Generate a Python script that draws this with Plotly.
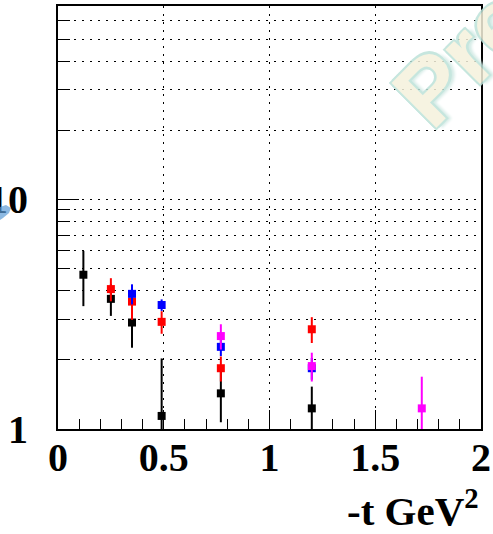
import plotly.graph_objects as go

# ---- data ----
black_x = [0.12, 0.25, 0.35, 0.49, 0.77, 1.20]
black_y = [4.70, 3.69, 2.91, 1.14, 1.43, 1.23]
black_e = [1.27, 0.58, 0.65, 0.89, 0.36, 0.30]

red_x = [0.25, 0.35, 0.49, 0.77, 1.20]
red_y = [4.07, 3.59, 2.93, 1.84, 2.72]
red_e = [0.47, 0.60, 0.33, 0.23, 0.35]

blue_x = [0.35, 0.49, 0.77, 1.20]
blue_y = [3.88, 3.47, 2.28, 1.84]
blue_e = [0.39, 0.20, 0.20, 0.20]

mag_x = [0.77, 1.20, 1.72]
mag_y = [2.54, 1.88, 1.23]
mag_e = [0.32, 0.27, 0.46]

x_tickvals = [0, 0.5, 1, 1.5, 2]
x_ticktext = ["0", "0.5", "1", "1.5", "2"]
y_tickvals = [1, 10]
y_ticktext = ["1", "10"]
y_minor = [2, 3, 4, 5, 6, 7, 8, 9, 20, 30, 40, 50, 60]

FONT = "Liberation Serif"

fig = go.Figure()
series = [
    (black_x, black_y, black_e, "#000000"),
    (red_x, red_y, red_e, "#ff0000"),
    (blue_x, blue_y, blue_e, "#0000ff"),
    (mag_x, mag_y, mag_e, "#ff00ff"),
]
for xs, ys, es, col in series:
    fig.add_trace(go.Scatter(
        x=xs, y=ys, mode="markers",
        marker=dict(symbol="square", size=8, color=col),
        error_y=dict(type="data", array=es, visible=True, color=col,
                     thickness=2, width=0),
        showlegend=False, cliponaxis=True,
    ))

grid = dict(gridcolor="#000000", gridwidth=1, griddash="2px,6px")

fig.update_xaxes(
    range=[0, 2], showline=True, linecolor="black", linewidth=2, mirror=True,
    tickvals=x_tickvals, ticktext=x_ticktext, automargin=False,
    ticks="inside", ticklen=19, tickwidth=1, tickcolor="black",
    showgrid=True, **grid, zeroline=False,
    tickfont=dict(family=FONT, size=40, color="black", weight="bold"),
    ticklabelstandoff=-8,
    minor=dict(dtick=0.1, ticks="inside", ticklen=10, tickwidth=1,
               tickcolor="black", showgrid=False),
)
fig.update_yaxes(
    type="log", range=[0, 1.843], showline=True, linecolor="black",
    linewidth=2, mirror=True, automargin=False,
    tickvals=y_tickvals, ticktext=y_ticktext,
    ticks="inside", ticklen=21, tickwidth=1, tickcolor="black",
    showgrid=True, **grid, zeroline=False,
    tickfont=dict(family=FONT, size=40, color="black", weight="bold"),
    ticklabelstandoff=20,
    minor=dict(tickvals=y_minor, ticks="inside", ticklen=12, tickwidth=1,
               tickcolor="black", showgrid=True, gridcolor="#000000",
               gridwidth=1, griddash="2px,6px"),
)

# x-axis title
fig.add_annotation(
    text="-t GeV<sup>2</sup>", xref="paper", yref="paper",
    x=1.0, y=-0.121, xanchor="right", yanchor="top", showarrow=False,
    font=dict(family=FONT, size=41, color="black", weight="bold"),
)

# watermark
fig.add_annotation(
    text="Preliminary", xref="paper", yref="paper",
    x=1.25, y=1.175, xanchor="center", yanchor="middle", showarrow=False,
    textangle=-45, opacity=0.85,
    font=dict(family="Liberation Sans", size=92, color="#f5f1dc", weight="bold",
              shadow="2px 2px 0 #bde2d9, -2px -2px 0 #bde2d9, 2px -2px 0 #bde2d9, -2px 2px 0 #bde2d9, 4px 4px 3px #cfe9e3"),
)

# small blue swoosh at the left edge
def px(xp):
    return (xp - 58) / 423.0

def py(yp):
    return (429 - yp) / 423.0

pts = [(0, 207), (6, 205), (11, 208), (9, 213), (3, 218), (0, 220)]
path = "M " + " L ".join(f"{px(a):.4f},{py(b):.4f}" for a, b in pts) + " Z"
fig.add_shape(type="path", path=path, xref="paper", yref="paper",
              fillcolor="#5b9bd5", opacity=0.7, line=dict(width=0),
              layer="above")

fig.update_layout(
    width=493, height=534,
    margin=dict(l=58, r=12, t=6, b=105),
    paper_bgcolor="white", plot_bgcolor="white",
)

fig.write_html("out.html")
